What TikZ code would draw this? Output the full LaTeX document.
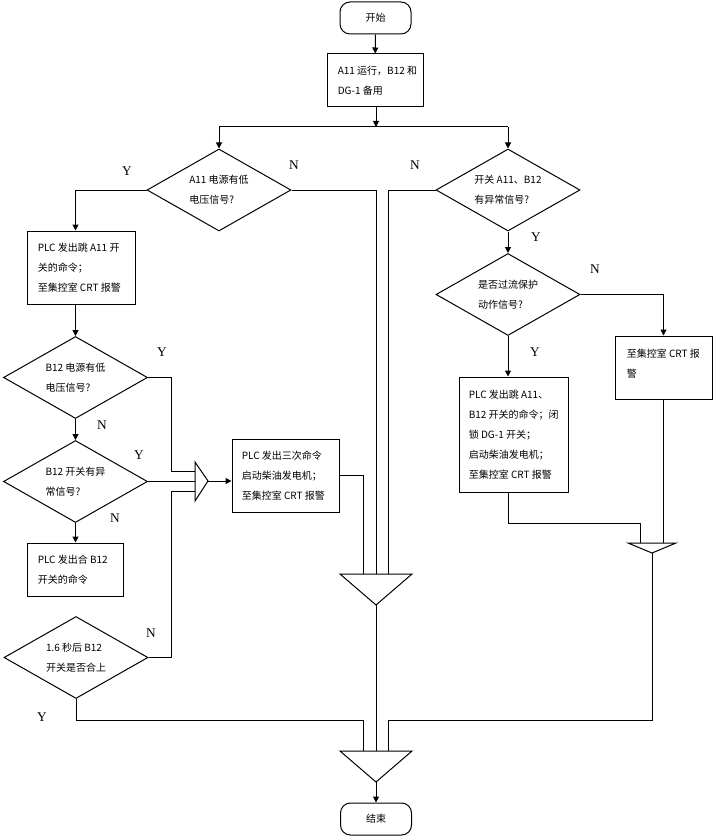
\documentclass[tikz,border=0pt]{standalone}
\usepackage{fontspec}
\setmainfont{Liberation Serif}
\newfontfamily\cjk{Noto Sans CJK SC}
\usetikzlibrary{shapes.geometric,arrows.meta}
\def\pxu{0.75pt}
\newcommand\cjkf{\cjk\fontsize{7.5}{15}\selectfont}
\begin{document}
\begin{tikzpicture}[x=0.75pt,y=-0.75pt,
  line/.style={draw, line width=0.75pt},
  arr/.style={line, -{Triangle[length=4.5pt,width=4.5pt]}},
  box/.style={draw, line width=0.75pt, rectangle, inner sep=0pt},
  term/.style={draw, line width=0.75pt, rectangle, rounded corners=7.5pt, inner sep=0pt,
     minimum width=71*\pxu, minimum height=32*\pxu, font=\cjkf},
  txt/.style={font=\cjkf, align=left, inner sep=0pt, anchor=west},
  dia/.style={draw, line width=0.75pt, diamond, aspect=1.77, inner sep=0pt,
     font=\cjkf, align=left, minimum width=144*\pxu, minimum height=82*\pxu},
  yn/.style={font=\fontsize{10}{12}\selectfont, inner sep=0pt}
]
\useasboundingbox (0,0) rectangle (715,838);

% terminals
\node[term] (start) at (375.5,18) {开始};
\node[term] (end) at (376,819) {结束};

% process boxes
\node[box, minimum width=96*\pxu, minimum height=53*\pxu] (b1) at (375,80.5) {};
\node[txt] (t1) at ([xshift=11*\pxu]b1.west) {A11 运行，B12 和\\DG-1 备用};

\node[box, minimum width=108*\pxu, minimum height=73*\pxu] (b2) at (81,267.5) {};
\node[txt] (t2) at ([xshift=11*\pxu]b2.west) {PLC 发出跳 A11 开\\关的命令；\\至集控室 CRT 报警};

\node[box, minimum width=96*\pxu, minimum height=53*\pxu] (b3) at (75,569.5) {};
\node[txt] (t3) at ([xshift=11*\pxu]b3.west) {PLC 发出合 B12\\开关的命令};

\node[box, minimum width=107*\pxu, minimum height=73*\pxu] (b4) at (285.5,475.5) {};
\node[txt] (t4) at ([xshift=10*\pxu]b4.west) {PLC 发出三次命令\\启动柴油发电机；\\至集控室 CRT 报警};

\node[box, minimum width=97*\pxu, minimum height=63*\pxu] (b5) at (663.5,367.5) {};
\node[txt] (t5) at ([xshift=12*\pxu,yshift=4*\pxu]b5.west) {至集控室 CRT 报\\警};

\node[box, minimum width=109*\pxu, minimum height=115*\pxu] (b6) at (513.5,434.5) {};
\node[txt] (t6) at ([xshift=10*\pxu]b6.west) {PLC 发出跳 A11、\\B12 开关的命令；闭\\锁 DG-1 开关；\\启动柴油发电机；\\至集控室 CRT 报警};

% decisions
\node[dia] (d1) at (219,190) {A11 电源有低\\电压信号?};
\node[dia] (d2) at (508,190) {开关 A11、B12\\有异常信号?};
\node[dia] (d3) at (75.5,377.5) {B12 电源有低\\电压信号?};
\node[dia] (d4) at (75.5,481.5) {B12 开关有异\\常信号?};
\node[dia] (d5) at (76,657.5) {1.6 秒后 B12\\开关是否合上};
\node[dia] (d6) at (508,294.5) {是否过流保护\\动作信号?};

% merge triangles
\coordinate (lT1) at (195,462); \coordinate (lT2) at (195,501); \coordinate (lApex) at (208,481);
\coordinate (inA) at (195,471); \coordinate (inB) at (195,481.5); \coordinate (inC) at (195,491);
\draw[line] (lT1) -- (lT2) -- (lApex) -- cycle;

\coordinate (mT1) at (340,574); \coordinate (mT2) at (412,574); \coordinate (mApex) at (376,605);
\coordinate (mIn1) at (363,574); \coordinate (mIn2) at (376,574); \coordinate (mIn3) at (388,574);
\draw[line] (mT1) -- (mT2) -- (mApex) -- cycle;

\coordinate (rT1) at (628,543); \coordinate (rT2) at (676,543); \coordinate (rApex) at (652,553);
\coordinate (rIn1) at (640,543); \coordinate (rIn2) at (663.5,543);
\draw[line] (rT1) -- (rT2) -- (rApex) -- cycle;

\coordinate (bT1) at (340,751); \coordinate (bT2) at (412,751); \coordinate (bApex) at (376,782);
\coordinate (bIn1) at (363,751); \coordinate (bIn2) at (376,751); \coordinate (bIn3) at (388,751);
\draw[line] (bT1) -- (bT2) -- (bApex) -- cycle;

% helper coordinates
\coordinate (brL) at (219,127); \coordinate (brM) at (376,127); \coordinate (brR) at (508,127);
\coordinate (colL) at (171,0);
\coordinate (rowR) at (0,523);
\coordinate (rowB) at (0,720);

% connectors
\draw[arr] (start) -- (b1);
\draw[arr] (b1.south -| brM) -- (brM);
\draw[line] (brL) -- (brR);
\draw[arr] (brL) -- (d1.north);
\draw[arr] (brR) -- (d2.north);

\draw[arr] (d1.west) -| (d3.north |- b2.north);
\draw[arr] (d3.north |- b2.south) -- (d3.north);
\draw[arr] (d3.south) -- (d4.north);
\draw[arr] (d4.south) -- (d4.south |- b3.north);

\draw[line] (d3.east) -| (colL |- inA) -- (inA);
\draw[line] (d4.east) -- (inB);
\draw[line] (d5.east) -| (colL |- inC) -- (inC);
\draw[arr] (lApex) -- (b4.west |- lApex);

\draw[line] (b4.east) -| (mIn1);
\draw[line] (d1.east) -| (mIn2);
\draw[line] (d2.west) -| (mIn3);

\draw[arr] (d2.south) -- (d6.north);
\draw[arr] (d6.east) -| (b5.north);
\draw[arr] (d6.south) -- (d6.south |- b6.north);
\draw[line] (d6.south |- b6.south) |- (rIn1 |- rowR) -- (rIn1);
\draw[line] (b5.south) -- (rIn2);

\draw[line] (rApex) |- (bIn3 |- rowB) -- (bIn3);
\draw[line] (d5.south) |- (bIn1 |- rowB) -- (bIn1);
\draw[line] (mApex) -- (bIn2);
\draw[arr] (bApex) -- (end.north);

% Y / N labels
\node[yn] (n1) at (294,165) {N};
\node[yn] (n2) at (415,165) {N};
\node[yn] (y1) at (127,171) {Y};
\node[yn] (y2) at (536,237) {Y};
\node[yn] (n3) at (595,269) {N};
\node[yn] (y3) at (535,352) {Y};
\node[yn] (y4) at (162,352) {Y};
\node[yn] (n4) at (102,425) {N};
\node[yn] (y5) at (139,455) {Y};
\node[yn] (n5) at (115,518) {N};
\node[yn] (n6) at (151,633) {N};
\node[yn] (y6) at (42,717) {Y};
\end{tikzpicture}
\end{document}
